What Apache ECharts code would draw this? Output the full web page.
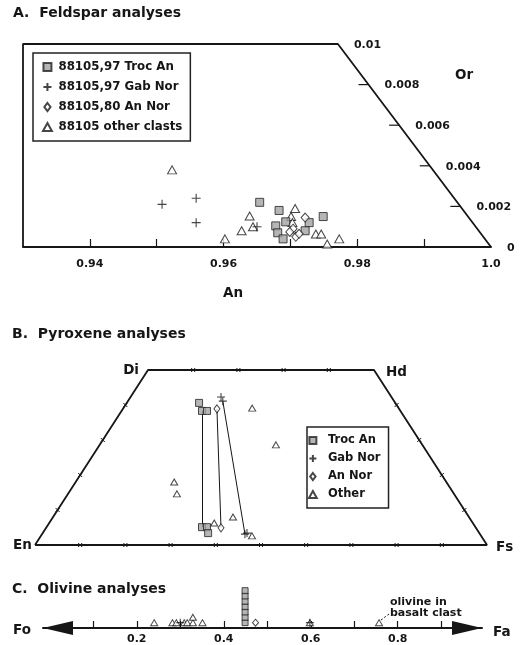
<!DOCTYPE html>
<html>
<head>
<meta charset="utf-8">
<script src="https://cdn.jsdelivr.net/npm/echarts@6/dist/echarts.min.js"></script>
<style>
  html, body { margin: 0; padding: 0; background: #fff; }
  #chart { width: 520px; height: 645px; }
</style>
</head>
<body>
<div id="chart"></div>
<script>
// ---------- A. Feldspar analyses: [An, Or] mole fractions ----------
const fspTrocAn = [[0.9654, 0.0022], [0.9683, 0.0018], [0.9693, 0.00124], [0.9678, 0.00104],
                   [0.9681, 0.0007], [0.9689, 0.0004], [0.9728, 0.0012], [0.9749, 0.0015], [0.9722, 0.0008]];
const fspGabNor = [[0.9508, 0.0021], [0.9559, 0.0024], [0.9559, 0.0012], [0.9650, 0.0010]];
const fspAnNor  = [[0.9722, 0.00145], [0.9704, 0.0009], [0.9699, 0.00074], [0.9708, 0.0005], [0.9713, 0.00065]];
const fspOther  = [[0.9523, 0.0038], [0.9602, 0.0004], [0.9627, 0.0008], [0.9639, 0.00153], [0.9644, 0.0010],
                   [0.9707, 0.0019], [0.9701, 0.0015], [0.9703, 0.0012], [0.9738, 0.00064], [0.9746, 0.00064],
                   [0.9755, 0.00015], [0.9773, 0.0004]];
const anTicks  = [0.94, 0.95, 0.96, 0.97, 0.98, 0.99];
const anLabels = [0.94, 0.96, 0.98, 1.0];
const orTicks  = [0.002, 0.004, 0.006, 0.008];
const orLabels = [0, 0.002, 0.004, 0.006, 0.008, 0.01];

// ---------- B. Pyroxene analyses: [Fs, Wo] mole fractions ----------
const pxTrocAn = [[0.160, 0.406], [0.178, 0.383], [0.189, 0.383], [0.344, 0.051], [0.355, 0.051], [0.366, 0.034]];
const pxGabNor = [[0.200, 0.423], [0.210, 0.411], [0.449, 0.031], [0.452, 0.034]];
const pxAnNor  = [[0.208, 0.389], [0.387, 0.049]];
const pxOther  = [[0.285, 0.391], [0.390, 0.286], [0.218, 0.180], [0.241, 0.146], [0.365, 0.063],
                  [0.398, 0.080], [0.467, 0.026]];
// coexisting pyroxene pairs joined by tie lines
const pxTies = [
  [[0.178, 0.383], [0.344, 0.051]],
  [[0.208, 0.389], [0.387, 0.049]],
  [[0.210, 0.411], [0.449, 0.031]]
];
const pxCorners = { En: [0, 0], Di: [0, 0.5], Hd: [0.5, 0.5], Fs: [1, 0] };
const pxTickSteps = [0.1, 0.2, 0.3, 0.4, 0.5, 0.6, 0.7, 0.8, 0.9];

// ---------- C. Olivine analyses: Fa mole fraction ----------
const olOther  = [0.240, 0.282, 0.291, 0.309, 0.316, 0.329, 0.329, 0.351, 0.598, 0.757];
const olGabNor = [0.300, 0.598];
const olAnNor  = [0.473];
const olTrocAn = [0.449, 0.449, 0.449, 0.449, 0.449, 0.449, 0.449];
const faTicks  = [0.1, 0.2, 0.3, 0.4, 0.5, 0.6, 0.7, 0.8, 0.9];
const faLabels = [0.2, 0.4, 0.6, 0.8];

// ---------- helpers ----------
const FONT = 'DejaVu Sans';
const INK = '#161616';
const AN_MIN = 0.93, AN_MAX = 1.0, OR_MAX = 0.01, AN_CORNER = 0.9771;
// An value on the slanted right edge for a given Or
const edgeAn = or => AN_MAX - (or / OR_MAX) * (AN_MAX - AN_CORNER);
// pyroxene quadrilateral projection (Fs, Wo) -> plot x, y
const proj = ([fs, wo]) => [fs + wo / 2, wo];
// repeated values in a 1-D series are stacked one above the other
const stack = vals => {
  const seen = {};
  return vals.map(v => {
    const k = v.toFixed(3);
    seen[k] = (seen[k] || 0) + 1;
    return [v, seen[k]];
  });
};

const SYM = {
  square:   'path://M0,0L10,0L10,10L0,10Z',
  triangle: 'path://M5,0L10,9L0,9Z',
  diamond:  'path://M5,0L10,6.5L5,13L0,6.5Z',
  plus:     'path://M5,0L5,10M0,5L10,5'
};
const sqStyle = { color: '#a3a3a3', borderColor: '#222', borderWidth: 1 };
const hollow  = { color: '#fff', borderColor: INK, borderWidth: 1 };
const plusSty = { color: INK, borderColor: INK, borderWidth: 1.1 };

function scatter(name, data, g, symbol, size, style) {
  return { type: 'scatter', name, data, xAxisIndex: g, yAxisIndex: g, symbol, symbolSize: size,
           itemStyle: style, silent: true, clip: false };
}
function outline(data, g, w) {
  return { type: 'line', data, xAxisIndex: g, yAxisIndex: g, symbol: 'none', silent: true, clip: false,
           lineStyle: { color: INK, width: w }, z: 1 };
}

// quadrilateral edge ticks for panel B
const pxTickPts = [];
pxTickSteps.forEach(f => pxTickPts.push(proj([f, 0])));
pxTickSteps.filter(f => f < 0.5).forEach(f => {
  pxTickPts.push(proj([f, 0.5]));       // Di-Hd edge
  pxTickPts.push(proj([0, f]));         // En-Di edge
  pxTickPts.push(proj([1 - f, f]));     // Fs-Hd edge
});

const chart = echarts.init(document.getElementById('chart'), null, { renderer: 'canvas' });

const txt = (text, x, y, size, align) => ({
  type: 'text', x, y, silent: true,
  style: { text, font: `bold ${size}px "${FONT}"`, fill: INK, align: align || 'left', verticalAlign: 'middle' }
});

const option = {
  animation: false,
  backgroundColor: '#fff',
  grid: [
    { left: 23, right: 29, top: 44, bottom: 398 },
    { left: 35, right: 33, top: 370, bottom: 100 },
    { left: 43, right: 38, top: 580, bottom: 17 }
  ],
  xAxis: [
    { gridIndex: 0, type: 'value', min: AN_MIN, max: AN_MAX,
      axisLine: { show: true, lineStyle: { color: INK, width: 2 } },
      axisTick: { show: true, inside: true, length: 8, customValues: anTicks, lineStyle: { color: INK, width: 1.2 } },
      axisLabel: { show: true, customValues: anLabels, margin: 12, color: INK,
                   fontFamily: FONT, fontWeight: 'bold', fontSize: 11,
                   formatter: v => (v === 1 ? '1.0' : v.toFixed(2)) },
      splitLine: { show: false } },
    { gridIndex: 1, type: 'value', min: 0, max: 1, show: false },
    { gridIndex: 2, type: 'value', min: -0.0156, max: 0.9937,
      axisLine: { show: true, lineStyle: { color: INK, width: 2 },
                  symbol: ['triangle', 'triangle'], symbolSize: [14, 30], symbolOffset: [15, -15] },
      axisTick: { show: true, inside: true, length: 7, customValues: faTicks, lineStyle: { color: INK, width: 1.2 } },
      axisLabel: { show: true, customValues: faLabels, margin: 6, color: INK,
                   fontFamily: FONT, fontWeight: 'bold', fontSize: 11,
                   formatter: v => v.toFixed(1) },
      splitLine: { show: false } }
  ],
  yAxis: [
    { gridIndex: 0, type: 'value', min: 0, max: OR_MAX, show: false },
    { gridIndex: 1, type: 'value', min: 0, max: 0.5, show: false },
    { gridIndex: 2, type: 'value', min: 0, max: 9, show: false }
  ],
  legend: [
    { data: ['88105,97 Troc An', '88105,97 Gab Nor', '88105,80 An Nor', '88105 other clasts'],
      orient: 'vertical', left: 33, top: 53, itemWidth: 12, itemHeight: 8, itemGap: 6, symbolKeepAspect: true,
      padding: [7, 8, 7, 9], borderColor: '#222', borderWidth: 1.5, selectedMode: false,
      textStyle: { fontFamily: FONT, fontWeight: 'bold', fontSize: 11.8, color: INK, lineHeight: 14 } },
    { data: ['Troc An', 'Gab Nor', 'An Nor', 'Other'],
      orient: 'vertical', left: 307, top: 427, itemWidth: 20, itemHeight: 7, itemGap: 5, symbolKeepAspect: true,
      padding: [7, 8, 7, 1], borderColor: '#222', borderWidth: 1.5, selectedMode: false,
      textStyle: { fontFamily: FONT, fontWeight: 'bold', fontSize: 11.5, color: INK, lineHeight: 13 } }
  ],
  series: [
    // panel A frame (left, top and slanted Or edge)
    outline([[AN_MIN, 0], [AN_MIN, OR_MAX], [AN_CORNER, OR_MAX], [AN_MAX, 0]], 0, 1.8),
    // Or scale on the slanted edge
    { type: 'custom', xAxisIndex: 0, yAxisIndex: 0, silent: true, clip: false,
      data: orLabels.map(v => [edgeAn(v), v]),
      renderItem: (params, api) => {
        const or = api.value(1);
        const p = api.coord([api.value(0), or]);
        const kids = [{ type: 'text', x: p[0] + 16, y: p[1] + 1,
          style: { text: or === 0 ? '0' : String(or), font: `bold 11px "${FONT}"`, fill: INK, verticalAlign: 'middle' } }];
        if (orTicks.includes(or)) {
          kids.push({ type: 'line', shape: { x1: p[0] - 10, y1: p[1], x2: p[0], y2: p[1] },
                      style: { stroke: INK, lineWidth: 1.2 } });
        }
        return { type: 'group', children: kids };
      } },
    scatter('88105 other clasts', fspOther, 0, SYM.triangle, [9, 8], hollow),
    scatter('88105,97 Troc An', fspTrocAn, 0, SYM.square, 8, sqStyle),
    scatter('88105,80 An Nor', fspAnNor, 0, SYM.diamond, [8, 9], hollow),
    scatter('88105,97 Gab Nor', fspGabNor, 0, SYM.plus, 9, plusSty),

    // panel B quadrilateral, edge ticks and tie lines
    outline([pxCorners.En, pxCorners.Di, pxCorners.Hd, pxCorners.Fs, pxCorners.En].map(proj), 1, 1.8),
    { type: 'custom', xAxisIndex: 1, yAxisIndex: 1, silent: true, clip: false,
      data: pxTickPts,
      renderItem: (params, api) => {
        const p = api.coord([api.value(0), api.value(1)]);
        const s = 2;
        return { type: 'group', children: [
          { type: 'line', shape: { x1: p[0] - s, y1: p[1] - s, x2: p[0] + s, y2: p[1] + s }, style: { stroke: INK, lineWidth: 1 } },
          { type: 'line', shape: { x1: p[0] - s, y1: p[1] + s, x2: p[0] + s, y2: p[1] - s }, style: { stroke: INK, lineWidth: 1 } }
        ] };
      } },
    { type: 'lines', coordinateSystem: 'cartesian2d', xAxisIndex: 1, yAxisIndex: 1, silent: true,
      data: pxTies.map(t => ({ coords: t.map(proj) })),
      lineStyle: { color: INK, width: 1, opacity: 1 } },
    scatter('Other', pxOther.map(proj), 1, SYM.triangle, [7, 6], hollow),
    scatter('Troc An', pxTrocAn.map(proj), 1, SYM.square, 7, sqStyle),
    scatter('An Nor', pxAnNor.map(proj), 1, SYM.diamond, [6, 8], hollow),
    scatter('Gab Nor', pxGabNor.map(proj), 1, SYM.plus, 8, plusSty),

    // panel C olivine line
    scatter('Other', stack(olOther), 2, SYM.triangle, [7, 6], hollow),
    scatter('Troc An', stack(olTrocAn), 2, SYM.square, 6, sqStyle),
    scatter('An Nor', stack(olAnNor), 2, SYM.diamond, [6, 7], hollow),
    scatter('Gab Nor', stack(olGabNor), 2, SYM.plus, 8, plusSty)
  ],
  graphic: [
    txt('A.  Feldspar analyses', 13, 13, 14),
    txt('An', 233, 293, 13.5, 'center'),
    txt('Or', 455, 75, 13.5),
    txt('B.  Pyroxene analyses', 12, 334, 14),
    txt('Di', 139, 370, 13.5, 'right'),
    txt('Hd', 386, 372, 13.5),
    txt('En', 13, 545, 13.5),
    txt('Fs', 496, 547, 13.5),
    txt('C.  Olivine analyses', 12, 589, 14),
    txt('Fo', 13, 630, 13.5),
    txt('Fa', 493, 632, 13.5),
    txt('olivine in', 390, 602, 11),
    txt('basalt clast', 390, 613, 11),
    { type: 'line', silent: true, shape: { x1: 381, y1: 620, x2: 389, y2: 614 },
      style: { stroke: INK, lineWidth: 1, lineDash: [2, 2] } }
  ]
};

chart.setOption(option);
</script>
</body>
</html>
